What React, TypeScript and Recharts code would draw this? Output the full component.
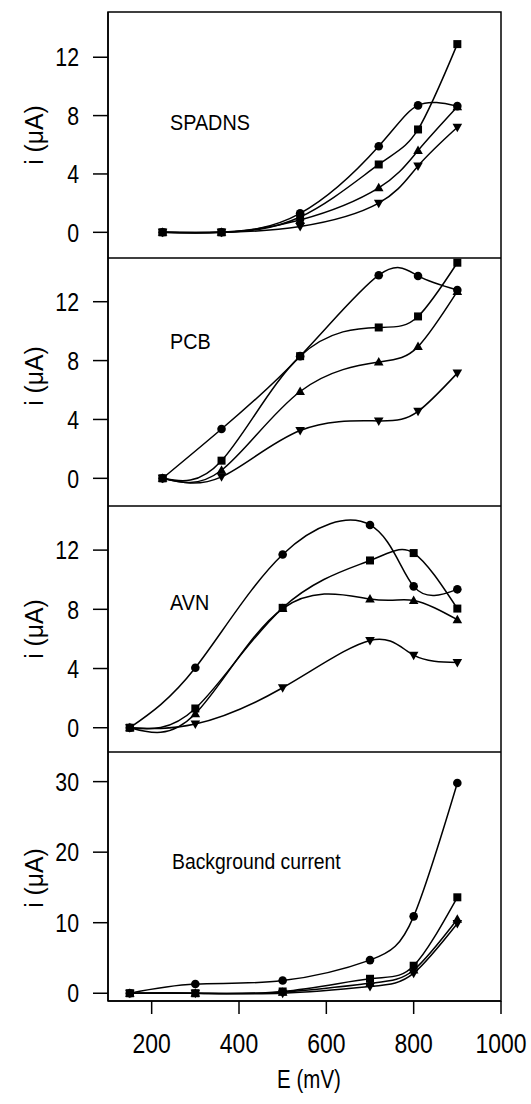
import { LineChart, Line, XAxis, YAxis, ReferenceArea } from "recharts";

// E (mV) sample points per panel
const spadnsE = [225, 360, 540, 720, 810, 900];
const pcbE = [225, 360, 540, 720, 810, 900];
const avnE = [150, 300, 500, 700, 800, 900];
const bgE = [150, 300, 500, 700, 800, 900];

// i (uA), one array per marker
const spadnsCircle = [0, 0, 1.3, 5.9, 8.7, 8.65];
const spadnsSquare = [0, 0, 1.05, 4.65, 7.05, 12.9];
const spadnsUp = [0, 0, 0.85, 3.05, 5.6, 8.6];
const spadnsDown = [0, 0, 0.4, 2.0, 4.55, 7.2];

const pcbCircle = [0, 3.35, 8.3, 13.8, 13.75, 12.8];
const pcbSquare = [0, 1.2, 8.3, 10.25, 11.0, 14.65];
const pcbUp = [0, 0.55, 5.9, 7.9, 8.95, 12.7];
const pcbDown = [0, 0.1, 3.25, 3.9, 4.55, 7.15];

const avnCircle = [0, 4.05, 11.7, 13.7, 9.55, 9.35];
const avnSquare = [0, 1.3, 8.1, 11.3, 11.8, 8.05];
const avnUp = [0, 0.95, 8.05, 8.7, 8.6, 7.3];
const avnDown = [0, 0.25, 2.7, 5.9, 4.9, 4.4];

const bgCircle = [0, 1.3, 1.8, 4.7, 10.9, 29.8];
const bgSquare = [0, 0, 0.25, 2.05, 3.9, 13.6];
const bgUp = [0, 0, 0.15, 1.4, 3.3, 10.5];
const bgDown = [0, 0, 0, 0.95, 2.85, 9.9];

const xTicks = [200, 400, 600, 800, 1000];
const smallTicks = [0, 4, 8, 12];
const bgTicks = [0, 10, 20, 30];

const FONT = "'Liberation Sans', Arial, sans-serif";
const NARROW = 0.82; // the original uses a condensed face

type Shape = "circle" | "square" | "up" | "down";

function makeDot(shape: Shape) {
  return (props: any) => {
    const { cx, cy, index } = props;
    if (cx == null || cy == null) return <g key={index} />;
    if (shape === "circle") return <circle key={index} cx={cx} cy={cy} r={4.3} fill="#000" />;
    if (shape === "square")
      return <rect key={index} x={cx - 4} y={cy - 4} width={8} height={8} fill="#000" />;
    if (shape === "up")
      return <path key={index} d={`M${cx},${cy - 5} L${cx + 4.8},${cy + 3.5} L${cx - 4.8},${cy + 3.5} Z`} fill="#000" />;
    return <path key={index} d={`M${cx},${cy + 5} L${cx + 4.8},${cy - 3.5} L${cx - 4.8},${cy - 3.5} Z`} fill="#000" />;
  };
}

function narrowTick(size: number, dy: string) {
  return (props: any) => {
    const { x, y, payload, textAnchor } = props;
    return (
      <g transform={`translate(${x},${y})`}>
        <text
          transform={`scale(${NARROW},1)`}
          textAnchor={textAnchor}
          dy={dy}
          fontSize={size}
          fontFamily={FONT}
          fill="#000"
        >
          {payload.value}
        </text>
      </g>
    );
  };
}

function NarrowText({ x, y, size, anchor, rotate, squeeze, children }: any) {
  return (
    <g transform={`translate(${x},${y})${rotate ? " rotate(-90)" : ""}`}>
      <text transform={`scale(${squeeze ?? NARROW},1)`} textAnchor={anchor || "start"} fontSize={size} fontFamily={FONT} fill="#000">
        {children}
      </text>
    </g>
  );
}

function buildRows(e: number[], c: number[], s: number[], u: number[], d: number[]) {
  return e.map((x, i) => ({ e: x, circle: c[i], square: s[i], up: u[i], down: d[i] }));
}

interface PanelProps {
  top: number;
  height: number;
  rows: any[];
  domain: [number, number];
  ticks: number[];
  showX?: boolean;
}

function Panel({ top, height, rows, domain, ticks, showX }: PanelProps) {
  const series: Shape[] = ["circle", "square", "up", "down"];
  return (
    <div style={{ position: "absolute", left: 0, top }}>
      <LineChart
        width={531}
        height={height}
        data={rows}
        margin={{ top: top === 0 ? 12 : 0, right: 30, left: 0, bottom: 0 }}
      >
        <XAxis
          dataKey="e"
          type="number"
          domain={[100, 1000]}
          ticks={xTicks}
          hide={!showX}
          height={103}
          tickSize={13}
          tickMargin={19}
          axisLine={{ stroke: "#000", strokeWidth: 1.5 }}
          tickLine={{ stroke: "#000", strokeWidth: 1.5 }}
          tick={narrowTick(28, "0.71em")}
        />
        <YAxis
          type="number"
          domain={domain}
          ticks={ticks}
          width={108}
          tickSize={15}
          tickMargin={14}
          axisLine={{ stroke: "#000", strokeWidth: 1.5 }}
          tickLine={{ stroke: "#000", strokeWidth: 1.5 }}
          tick={narrowTick(26, "0.355em")}
        />
        <ReferenceArea
          x1={100}
          x2={1000}
          y1={domain[0]}
          y2={domain[1]}
          fill="none"
          stroke="#000"
          strokeWidth={1.5}
          ifOverflow="visible"
        />
        {series.map((k) => (
          <Line
            key={k}
            dataKey={k}
            type="natural"
            stroke="#000"
            strokeWidth={1.5}
            dot={makeDot(k)}
            isAnimationActive={false}
          />
        ))}
      </LineChart>
    </div>
  );
}

const labels = [
  { text: "SPADNS", x: 170, y: 130, size: 22 },
  { text: "PCB", x: 170, y: 349, size: 22 },
  { text: "AVN", x: 170, y: 610, size: 22 },
  { text: "Background current", x: 172, y: 869, size: 21.5 },
];

const yLabelCenters = [135, 376, 629, 878];

export default function App() {
  return (
    <div style={{ position: "absolute", left: 0, top: 0, width: 531, height: 1104, background: "#fff" }}>
      <Panel top={0} height={258} rows={buildRows(spadnsE, spadnsCircle, spadnsSquare, spadnsUp, spadnsDown)} domain={[-1.76, 15.1]} ticks={smallTicks} />
      <Panel top={258} height={248} rows={buildRows(pcbE, pcbCircle, pcbSquare, pcbUp, pcbDown)} domain={[-1.88, 14.97]} ticks={smallTicks} />
      <Panel top={506} height={246} rows={buildRows(avnE, avnCircle, avnSquare, avnUp, avnDown)} domain={[-1.64, 14.98]} ticks={smallTicks} />
      <Panel top={752} height={352} rows={buildRows(bgE, bgCircle, bgSquare, bgUp, bgDown)} domain={[-1.1, 34.2]} ticks={bgTicks} showX />
      <svg width={531} height={1104} style={{ position: "absolute", left: 0, top: 0, pointerEvents: "none" }}>
        {labels.map((l) => (
          <NarrowText key={l.text} x={l.x} y={l.y} size={l.size} squeeze={0.9}>
            {l.text}
          </NarrowText>
        ))}
        {yLabelCenters.map((cy, i) => (
          <NarrowText key={i} x={43} y={cy} size={26} anchor="middle" rotate squeeze={0.95}>
            i (μA)
          </NarrowText>
        ))}
        <NarrowText x={309} y={1088} size={25} anchor="middle">
          E (mV)
        </NarrowText>
      </svg>
    </div>
  );
}
